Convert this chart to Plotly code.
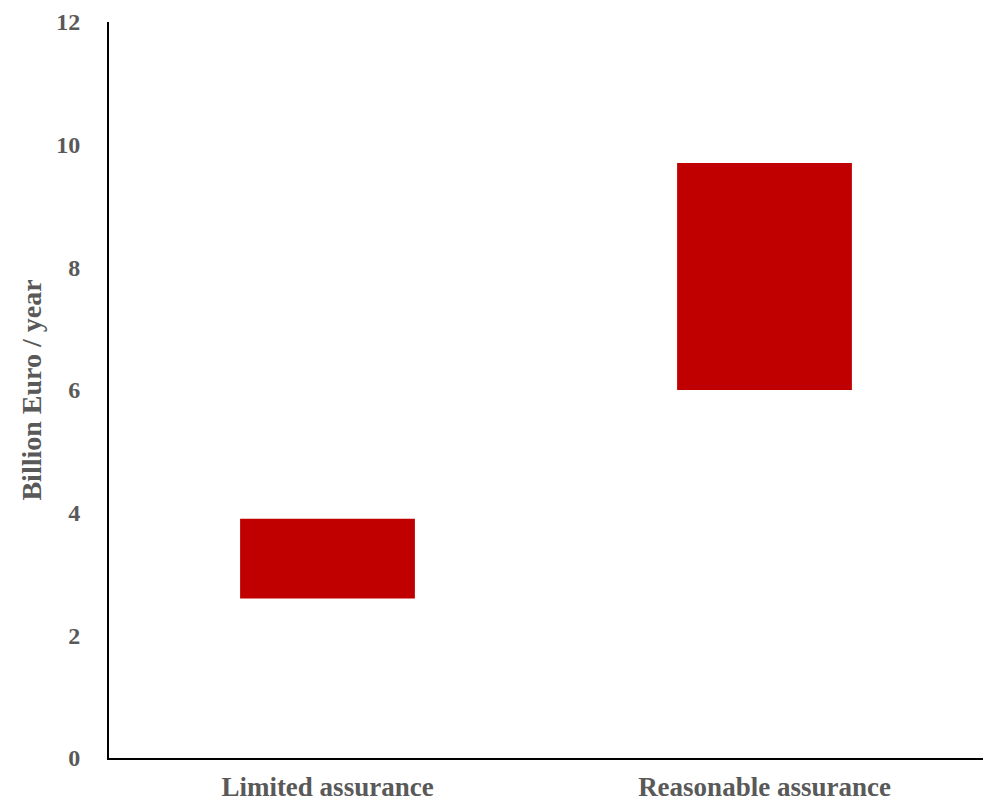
import plotly.graph_objects as go

# Cost ranges of assurance levels (billion euro per year)
categories = ["Limited assurance", "Reasonable assurance"]
low_values = [2.6, 6.0]
high_values = [3.9, 9.7]
y_ticks = [0, 2, 4, 6, 8, 10, 12]

spans = [h - l for h, l in zip(high_values, low_values)]

fig = go.Figure(
    go.Bar(
        x=categories,
        y=spans,
        base=low_values,
        width=0.4,
        marker=dict(color="#C00000", line=dict(width=0)),
        hoverinfo="skip",
    )
)

font_family = "Liberation Serif"
grey = "#595959"

fig.update_layout(
    width=983,
    height=803,
    margin=dict(l=109, r=0, t=22, b=45),
    paper_bgcolor="white",
    plot_bgcolor="white",
    showlegend=False,
    font=dict(family=font_family, color=grey),
    xaxis=dict(
        automargin=False,
        showline=True,
        linecolor="black",
        linewidth=2,
        showgrid=False,
        ticks="",
        tickfont=dict(family=font_family, size=27, color=grey, weight="bold"),
        ticklabelstandoff=4,
    ),
    yaxis=dict(
        automargin=False,
        range=[0, 12],
        tickvals=y_ticks,
        showline=True,
        linecolor="black",
        linewidth=2,
        showgrid=False,
        zeroline=False,
        ticks="",
        tickfont=dict(family=font_family, size=24, color=grey, weight="bold"),
        ticklabelstandoff=22,
        title=dict(
            text="Billion Euro / year",
            font=dict(family=font_family, size=28, color=grey, weight="bold"),
            standoff=6,
        ),
    ),
)

fig.write_html("out.html")
